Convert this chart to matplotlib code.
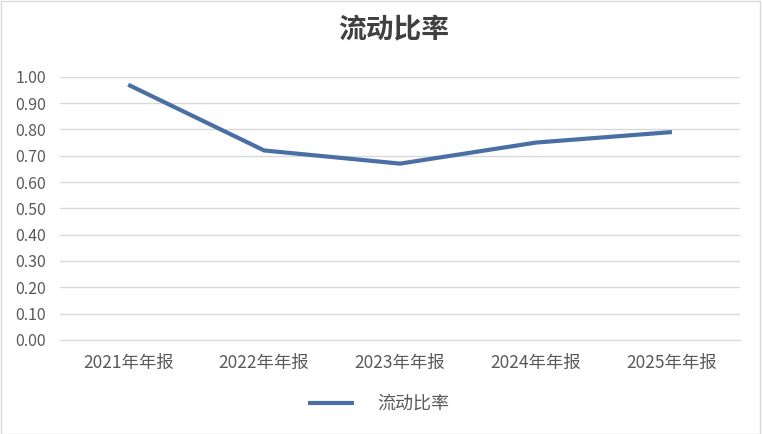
import matplotlib.pyplot as plt
from matplotlib.ticker import FormatStrFormatter

plt.rcParams['font.family'] = ['Noto Sans CJK SC', 'DejaVu Sans']

# 数据
categories = ['2021年年报', '2022年年报', '2023年年报', '2024年年报', '2025年年报']
current_ratio = [0.97, 0.72, 0.67, 0.75, 0.79]
yticks = [0.0, 0.1, 0.2, 0.3, 0.4, 0.5, 0.6, 0.7, 0.8, 0.9, 1.0]

fig = plt.figure(figsize=(7.62, 4.34), dpi=100)
ax = fig.add_axes([0.079, 0.217, 0.892, 0.606])

x = range(len(categories))
ax.plot(x, current_ratio, color='#4A6FA5', linewidth=3, solid_capstyle='butt',
        label='流动比率')

ax.set_xlim(-0.5, len(categories) - 0.5)
ax.set_ylim(0, 1.0)
ax.set_yticks(yticks)
ax.yaxis.set_major_formatter(FormatStrFormatter('%.2f'))
ax.set_xticks(list(x))
ax.set_xticklabels(categories)

ax.grid(axis='y', color='#D9D9D9', linewidth=1)
ax.set_axisbelow(True)
for s in ['top', 'right', 'left']:
    ax.spines[s].set_visible(False)
ax.spines['bottom'].set_color('#D9D9D9')
ax.tick_params(axis='y', length=0, labelsize=11.5, colors='#595959', pad=10)
ax.tick_params(axis='x', length=0, labelsize=12.5, colors='#595959', pad=10)

fig.text(0.517, 0.931, '流动比率', ha='center', va='center', fontsize=20,
         fontweight='bold', color='#404040')

leg = fig.legend(loc='center', bbox_to_anchor=(0.497, 0.069), frameon=False,
                 fontsize=13, handlelength=2.55, handletextpad=1.3)
for t in leg.get_texts():
    t.set_color('#595959')

# 外框
fig.patches.append(plt.Rectangle((0.001, 0.001), 0.997, 0.997, transform=fig.transFigure,
                                 fill=False, edgecolor='#D9D9D9', linewidth=1))

plt.savefig('out.png', dpi=100)
